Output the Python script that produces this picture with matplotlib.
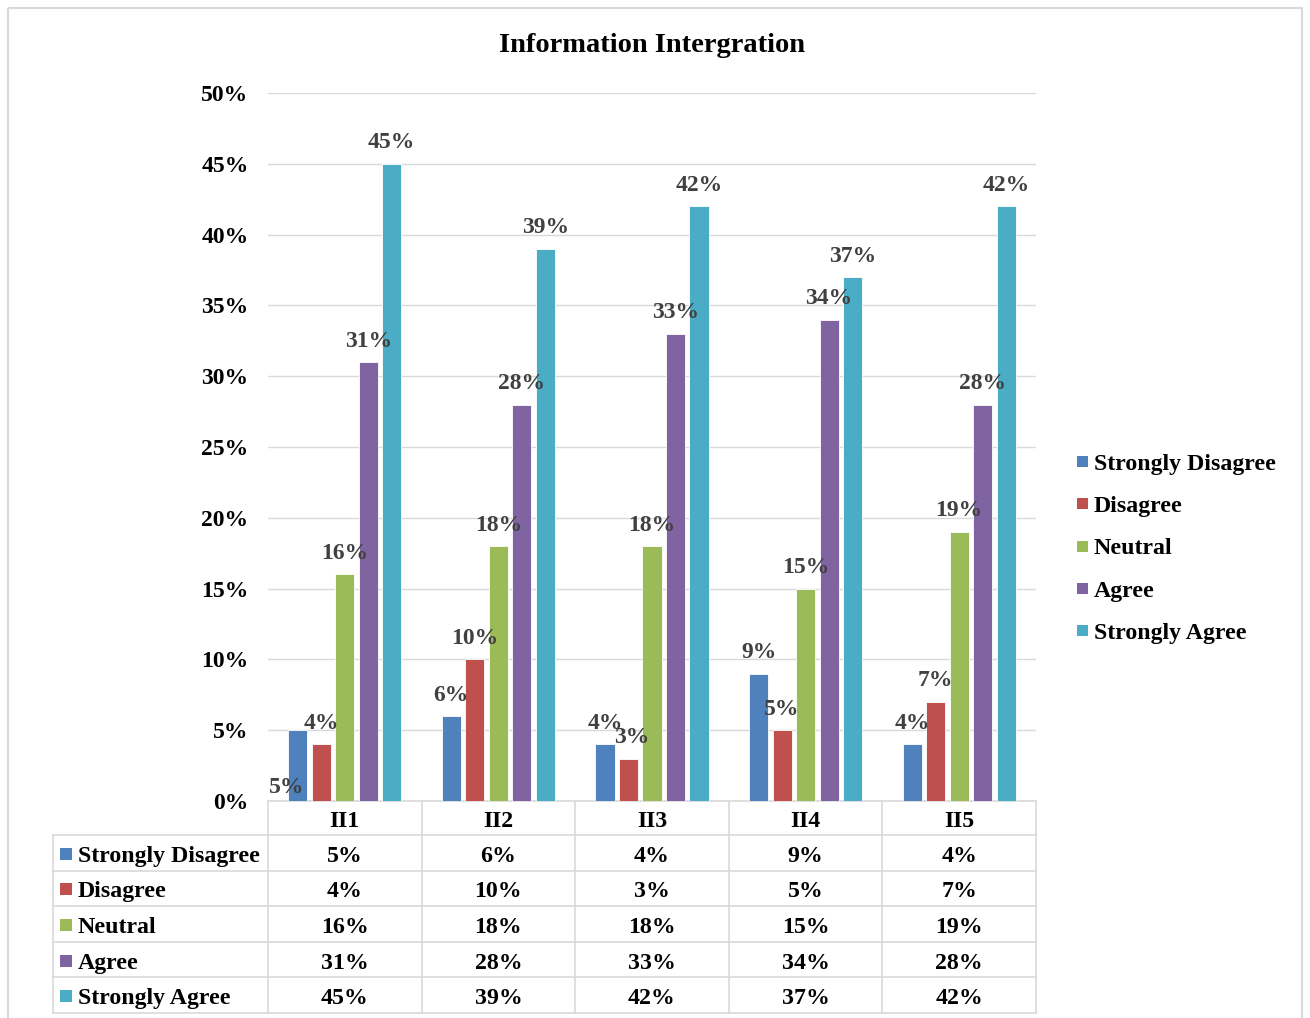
import matplotlib
matplotlib.use("Agg")
import matplotlib.pyplot as plt
import numpy as np
from matplotlib.patches import Rectangle

plt.rcParams["font.family"] = ["Liberation Serif", "DejaVu Serif"]
plt.rcParams["font.weight"] = "bold"

W, H = 1310, 1018

items = ["II1", "II2", "II3", "II4", "II5"]
responses = ["Strongly Disagree", "Disagree", "Neutral", "Agree", "Strongly Agree"]
strongly_disagree = [5, 6, 4, 9, 4]
disagree = [4, 10, 3, 5, 7]
neutral = [16, 18, 18, 15, 19]
agree = [31, 28, 33, 34, 28]
strongly_agree = [45, 39, 42, 37, 42]
yticks = [0, 5, 10, 15, 20, 25, 30, 35, 40, 45, 50]

COLORS = ["#4F81BD", "#C0504D", "#9BBB59", "#8064A2", "#4BACC6"]
GRID = "#d9d9d9"
LABEL_GREY = "#404040"
series = [strongly_disagree, disagree, neutral, agree, strongly_agree]
# excel dropped one label below its bar and crowded two others; keep that
nudge = {(0, 0): (-11, -57), (1, 2): (3, 21)}

fig = plt.figure(figsize=(W / 100, H / 100), dpi=100)
fig.patch.set_facecolor("white")

# pixel-space overlay for the frame, data table and legend
ov = fig.add_axes([0, 0, 1, 1])
ov.set_xlim(0, W)
ov.set_ylim(H, 0)
ov.axis("off")

ax = fig.add_axes([268 / W, 1 - 801 / H, 768 / W, 708 / H])
ax.set_xlim(-0.5, len(items) - 0.5)
ax.set_ylim(0, 0.5)

x = np.arange(len(items))
step, width = 0.153, 0.124
for i, (vals, col) in enumerate(zip(series, COLORS)):
    xpos = x + (i - 2) * step
    ax.bar(xpos, np.array(vals) / 100, width=width, color=col,
           edgecolor="white", linewidth=0.6, zorder=3)
    for j, v in enumerate(vals):
        dx, dy = nudge.get((i, j), (0, 21))
        ax.annotate(f"{v}%", (xpos[j], v / 100), xytext=(dx, dy),
                    textcoords="offset pixels", ha="center", va="center",
                    fontsize=17, color=LABEL_GREY, fontweight="bold",
                    zorder=4)

ax.set_yticks([t / 100 for t in yticks])
ax.set_yticklabels([f"{t}%" for t in yticks], fontsize=17, fontweight="bold")
ax.tick_params(axis="y", length=0, pad=14)
ax.set_xticks([])
ax.yaxis.grid(True, color=GRID, linewidth=1.0, zorder=0)
ax.set_axisbelow(True)
for s in ax.spines.values():
    s.set_visible(False)
ax.patch.set_alpha(0)

ax.set_title("Information Intergration", fontsize=20.5, fontweight="bold",
             pad=0, y=1.0)
ax.title.set_position((0.5, 1 + (93 - 45) / 708))
ax.title.set_va("center")

# outer frame
ov.add_patch(Rectangle((8, 8), W - 16, H + 40, fill=False,
                       edgecolor=GRID, linewidth=1.5))

# data table under the plot
col_edges = np.linspace(268, 1036, len(items) + 1)
row_top, head_bot, tab_bot = 801, 835, 1013
row_edges = np.linspace(head_bot, tab_bot, len(responses) + 1)
lw = 1.2
ov.plot([268, 1036], [row_top, row_top], color=GRID, lw=lw)
for y in row_edges:
    ov.plot([53, 1036], [y, y], color=GRID, lw=lw)
ov.plot([53, 53], [head_bot, tab_bot], color=GRID, lw=lw)
for xe in col_edges:
    ov.plot([xe, xe], [row_top, tab_bot], color=GRID, lw=lw)

col_mid = (col_edges[:-1] + col_edges[1:]) / 2
row_mid = (row_edges[:-1] + row_edges[1:]) / 2
for cx, name in zip(col_mid, items):
    ov.text(cx, (row_top + head_bot) / 2 + 1, name, ha="center",
            va="center_baseline", fontsize=17.2, fontweight="bold")
for ry, name, vals, col in zip(row_mid, responses, series, COLORS):
    ov.add_patch(Rectangle((60, ry - 5), 12, 12, color=col, lw=0))
    ov.text(78, ry + 1, name, ha="left", va="center_baseline",
            fontsize=17.2, fontweight="bold")
    for cx, v in zip(col_mid, vals):
        ov.text(cx, ry + 1, f"{v}%", ha="center", va="center_baseline",
                fontsize=17.2, fontweight="bold")

# legend on the right
leg_rows = np.linspace(461, 630, len(responses))
for ly, name, col in zip(leg_rows, responses, COLORS):
    ov.add_patch(Rectangle((1077, ly - 5), 11, 11, color=col, lw=0))
    ov.text(1094, ly + 1, name, ha="left", va="center_baseline",
            fontsize=17.2, fontweight="bold")

fig.savefig("out.png", dpi=100, facecolor="white")
